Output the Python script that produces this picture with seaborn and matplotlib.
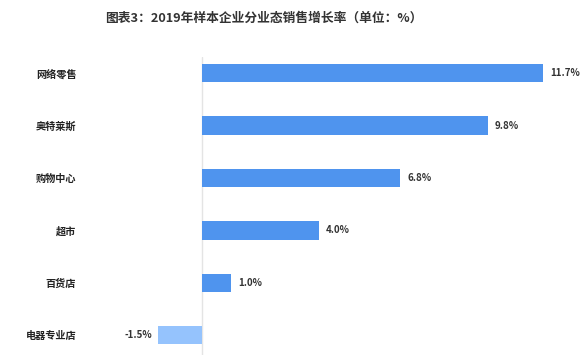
import matplotlib
matplotlib.use("Agg")
import matplotlib.pyplot as plt
import seaborn as sns
import pandas as pd

categories = ["网络零售", "奥特莱斯", "购物中心", "超市", "百货店", "电器专业店"]
values = [11.7, 9.8, 6.8, 4.0, 1.0, -1.5]
labels = ["11.7%", "9.8%", "6.8%", "4.0%", "1.0%", "-1.5%"]
title = "图表3：2019年样本企业分业态销售增长率（单位：%）"

sns.set_theme(style="white")
plt.rcParams['font.family'] = ['Noto Sans CJK SC', 'DejaVu Sans']

df = pd.DataFrame({"cat": categories, "val": values})
df["sign"] = ["pos" if v >= 0 else "neg" for v in values]

W, H = 580, 363
fig = plt.figure(figsize=(W / 100, H / 100), dpi=100)
ax_l, ax_r, ax_t, ax_b = 120, 570, 57, 355
ax = fig.add_axes([ax_l / W, 1 - ax_b / H, (ax_r - ax_l) / W, (ax_b - ax_t) / H])

sns.barplot(data=df, y="cat", x="val", hue="sign", orient="h",
            palette={"pos": "#4F94EE", "neg": "#95C3FD"}, width=0.35,
            saturation=1, dodge=False, legend=False, ax=ax, edgecolor="none")

ppu = 29.15
ax.set_xlim((ax_l - 202) / ppu, (ax_r - 202) / ppu)
ax.set_ylim(5.38, -0.31)
ax.axvline(0, color="#E4E4E4", lw=1, zorder=0)
for s in ax.spines.values():
    s.set_visible(False)
ax.set_xticks([])
ax.set_xlabel("")
ax.set_ylabel("")
ax.tick_params(axis="y", length=0, pad=31.5)
for t in ax.get_yticklabels():
    t.set_fontsize(7.3)
    t.set_fontweight("bold")
    t.set_color("#222222")

for i, (v, lab) in enumerate(zip(values, labels)):
    if v >= 0:
        ax.annotate(lab, (v, i), xytext=(5, 0), textcoords="offset points",
                    ha="left", va="center", fontsize=7, fontweight="bold", color="#333333")
    else:
        ax.annotate(lab, (v, i), xytext=(-4.5, 0), textcoords="offset points",
                    ha="right", va="center", fontsize=7, fontweight="bold", color="#333333")

fig.text(264 / W, 1 - 18 / H, title, ha="center", va="center",
         fontsize=9.2, fontweight="bold", color="#333333")

fig.savefig("out.png", dpi=100)
